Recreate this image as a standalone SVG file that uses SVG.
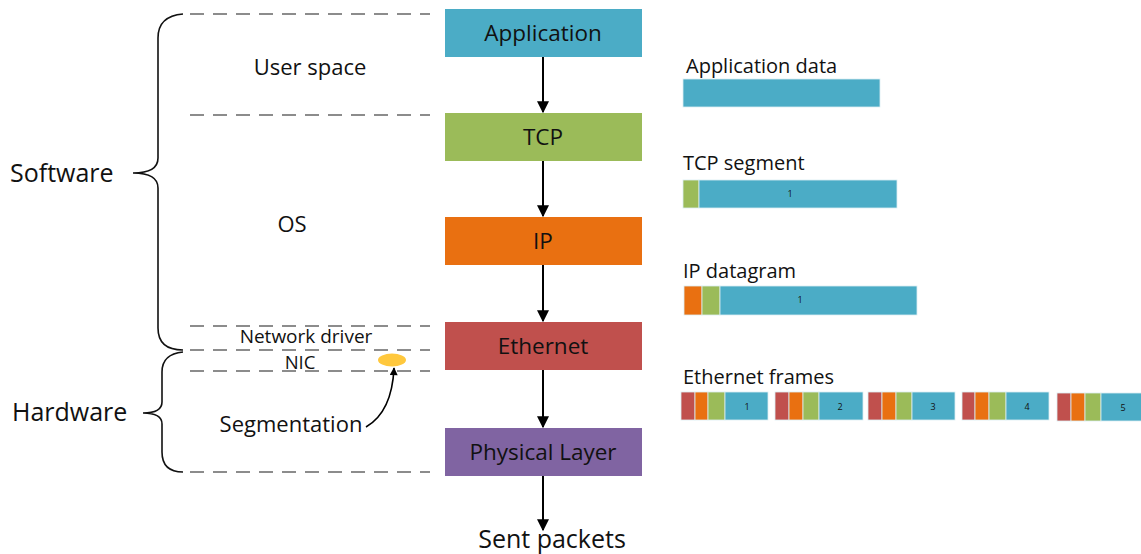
<svg xmlns="http://www.w3.org/2000/svg" width="1141" height="554" viewBox="0 0 1141 554">
<style>
text{font-family:"Open Sans","Liberation Sans",sans-serif;fill:#111}
.dash{stroke:#8c8c8c;stroke-width:2;stroke-dasharray:14,9;fill:none}
.brace{stroke:#111;stroke-width:1.6;fill:none}
.conn{stroke:#000;stroke-width:2;fill:none}
.lbl{font-size:22px}
.box{font-size:22.5px;text-anchor:middle}
.cap{font-size:20px}
.num{font-size:9px;text-anchor:middle}
.blue{fill:#4BACC6}.green{fill:#9BBB59}.orange{fill:#E97011}.red{fill:#C0504D}.purple{fill:#8064A2}
.bar{stroke:#dbeef3;stroke-width:0.8}
</style>
<defs>
<marker id="ah" viewBox="0 0 10 10" refX="9" refY="5" markerWidth="13" markerHeight="12" markerUnits="userSpaceOnUse" orient="auto"><path d="M0,0 L10,5 L0,10 z" fill="#000"/></marker>
<marker id="ah2" viewBox="0 0 10 10" refX="9" refY="5" markerWidth="9" markerHeight="8" markerUnits="userSpaceOnUse" orient="auto"><path d="M0,0 L10,5 L0,10 z" fill="#000"/></marker>
</defs>
<g id="guides">
<line class="dash" x1="190" y1="14" x2="430" y2="14"/>
<line class="dash" x1="190" y1="115" x2="430" y2="115"/>
<line class="dash" x1="190" y1="326" x2="430" y2="326"/>
<line class="dash" x1="190" y1="350" x2="430" y2="350"/>
<line class="dash" x1="190" y1="371" x2="430" y2="371"/>
<line class="dash" x1="190" y1="472" x2="430" y2="472"/>
</g>
<g id="software-brace">
<path class="brace" d="M183,14 Q158,16 158,38 L158,158 Q158,173 133,173 Q158,173 158,188 L158,328 Q158,350 183,350"/>
<text x="10" y="182" font-size="25">Software</text>
</g>
<g id="hardware-brace">
<path class="brace" d="M183,352 Q162,354 162,372 L162,402 Q162,413 143,413 Q162,413 162,424 L162,452 Q162,472 183,472"/>
<text x="12" y="421" font-size="25">Hardware</text>
</g>
<g id="zone-labels">
<text class="lbl" x="310" y="75" text-anchor="middle">User space</text>
<text class="lbl" x="292" y="232" text-anchor="middle">OS</text>
<text x="306" y="343" font-size="19" text-anchor="middle">Network driver</text>
<text x="300" y="369" font-size="18.5" text-anchor="middle">NIC</text>
<text class="lbl" x="291" y="432" text-anchor="middle">Segmentation</text>
</g>
<g id="nic-chip"><ellipse cx="392" cy="360" rx="14" ry="6.5" fill="#FFC83D"/></g>
<g id="application"><rect class="blue" x="445" y="9" width="197" height="48"/><text class="box" x="543" y="41">Application</text></g>
<g id="tcp"><rect class="green" x="445" y="113" width="197" height="48"/><text class="box" x="543" y="145">TCP</text></g>
<g id="ip"><rect class="orange" x="445" y="217" width="197" height="48"/><text class="box" x="543" y="249">IP</text></g>
<g id="ethernet"><rect class="red" x="445" y="322" width="197" height="48"/><text class="box" x="543" y="354">Ethernet</text></g>
<g id="physical"><rect class="purple" x="445" y="428" width="197" height="48"/><text class="box" x="543" y="460">Physical Layer</text></g>
<g id="sent"><text x="552" y="548" font-size="25" text-anchor="middle">Sent packets</text></g>
<g id="connectors">
<line class="conn" x1="543" y1="57" x2="543" y2="112" marker-end="url(#ah)"/>
<line class="conn" x1="543" y1="161" x2="543" y2="216" marker-end="url(#ah)"/>
<line class="conn" x1="543" y1="265" x2="543" y2="321" marker-end="url(#ah)"/>
<line class="conn" x1="543" y1="370" x2="543" y2="427" marker-end="url(#ah)"/>
<line class="conn" x1="543" y1="476" x2="543" y2="530" marker-end="url(#ah)"/>
<path class="conn" style="stroke-width:1.6" d="M366,427 Q392,412 394,368" marker-end="url(#ah2)"/>
</g>
<g id="app-data">
<text class="cap" x="686" y="73">Application data</text>
<rect class="blue bar" x="683" y="79" width="197" height="28"/>
</g>
<g id="tcp-segment">
<text class="cap" x="683" y="170">TCP segment</text>
<rect class="green bar" x="683" y="180" width="16" height="28"/>
<rect class="blue bar" x="699" y="180" width="198" height="28"/>
<text class="num" x="790" y="197">1</text>
</g>
<g id="ip-datagram">
<text class="cap" x="683" y="278">IP datagram</text>
<rect class="orange bar" x="684" y="286" width="18" height="29"/>
<rect class="green bar" x="702" y="286" width="18" height="29"/>
<rect class="blue bar" x="720" y="286" width="197" height="29"/>
<text class="num" x="800" y="303">1</text>
</g>
<g id="ethernet-frames">
<text class="cap" x="683" y="384">Ethernet frames</text>
<rect class="red bar" x="681" y="392" width="14" height="28"/><rect class="orange bar" x="695" y="392" width="13" height="28"/><rect class="green bar" x="708" y="392" width="17" height="28"/><rect class="blue bar" x="725" y="392" width="43" height="28"/><text class="num" x="747" y="410">1</text>
<rect class="red bar" x="775" y="392" width="14" height="28"/><rect class="orange bar" x="789" y="392" width="14" height="28"/><rect class="green bar" x="803" y="392" width="16" height="28"/><rect class="blue bar" x="819" y="392" width="44" height="28"/><text class="num" x="840" y="410">2</text>
<rect class="red bar" x="868" y="392" width="14" height="28"/><rect class="orange bar" x="882" y="392" width="14" height="28"/><rect class="green bar" x="896" y="392" width="16" height="28"/><rect class="blue bar" x="912" y="392" width="43" height="28"/><text class="num" x="933" y="410">3</text>
<rect class="red bar" x="962" y="392" width="13" height="28"/><rect class="orange bar" x="975" y="392" width="14" height="28"/><rect class="green bar" x="989" y="392" width="17" height="28"/><rect class="blue bar" x="1006" y="392" width="43" height="28"/><text class="num" x="1027" y="410">4</text>
<rect class="red bar" x="1057" y="393" width="14" height="28"/><rect class="orange bar" x="1071" y="393" width="14" height="28"/><rect class="green bar" x="1085" y="393" width="16" height="28"/><rect class="blue bar" x="1101" y="393" width="45" height="28"/><text class="num" x="1123" y="411">5</text>
</g>
</svg>
